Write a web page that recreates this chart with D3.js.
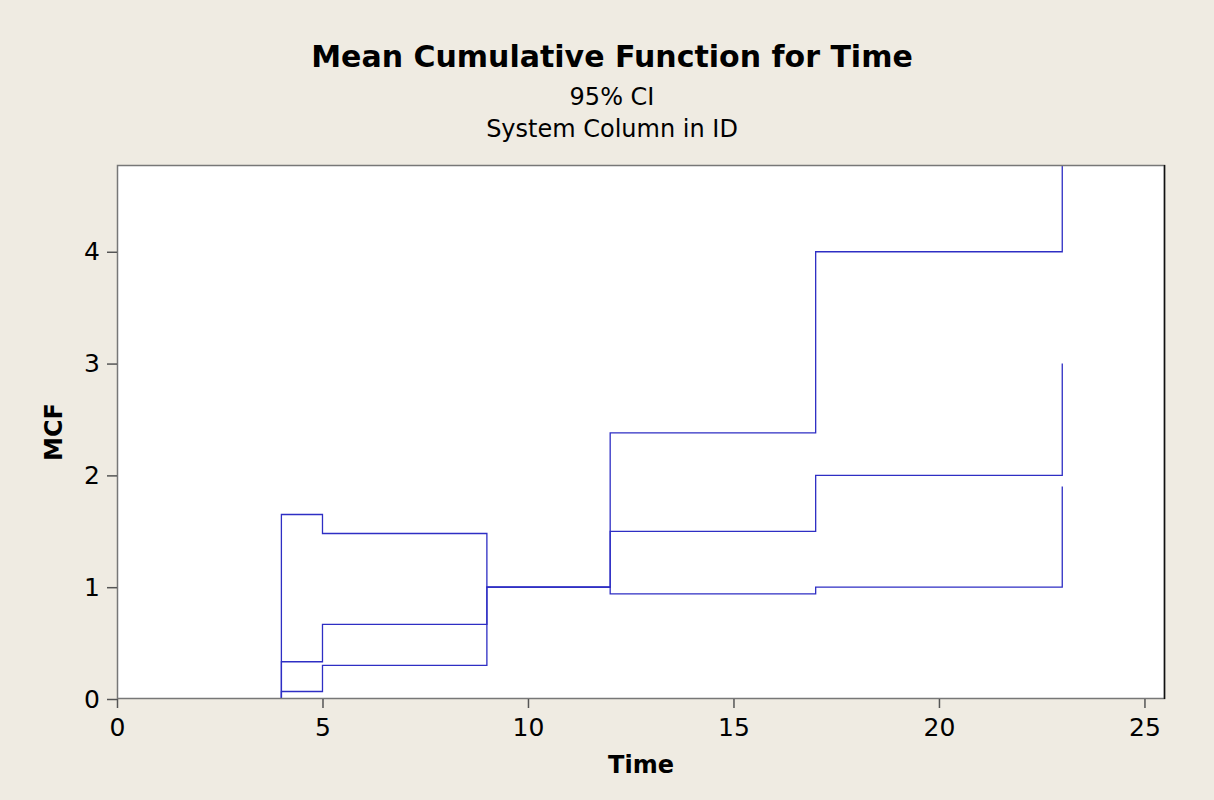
<!DOCTYPE html>
<html>
<head>
<meta charset="utf-8">
<script src="https://cdn.jsdelivr.net/npm/d3@7"></script>
<style>
  html, body { margin: 0; padding: 0; background: #efebe2; }
  svg { display: block; }
  text { font-family: "DejaVu Sans", Verdana, sans-serif; fill: #000; }
</style>
</head>
<body>
<svg id="chart" width="1214" height="800"></svg>
<script>
// Event times and step values (MCF and 95% CI bounds)
const times      = [0, 4, 5, 9, 12, 17, 23];
const mcf        = [0, 0.333, 0.667, 1.0, 1.5, 2.0, 3.0];
const lowerCI    = [0, 0.067, 0.30, 1.0, 0.94, 1.0, 1.9];
const upperCI    = [0, 1.65, 1.48, 1.0, 2.38, 4.0, 5.2];
const xTicks     = [0, 5, 10, 15, 20, 25];
const yTicks     = [0, 1, 2, 3, 4];
const titleText  = "Mean Cumulative Function for Time";
const subtitles  = ["95% CI", "System Column in ID"];
const xLabel     = "Time";
const yLabel     = "MCF";

const svg = d3.select("#chart");
const W = 1214, H = 800;
const plot = { left: 117, top: 165, right: 1165, bottom: 699 };

svg.append("rect").attr("width", W).attr("height", H).attr("fill", "#efebe2");

const x = d3.scaleLinear().domain([0, 25.5]).range([plot.left, plot.right]);
const y = d3.scaleLinear().domain([0, 4.776]).range([plot.bottom, plot.top]);

// Plot area
svg.append("rect")
  .attr("x", plot.left).attr("y", plot.top)
  .attr("width", plot.right - plot.left).attr("height", plot.bottom - plot.top)
  .attr("fill", "#fff");

svg.append("clipPath").attr("id", "clip")
  .append("rect")
  .attr("x", plot.left).attr("y", plot.top)
  .attr("width", plot.right - plot.left).attr("height", plot.bottom - plot.top);

// Step lines
function stepPoints(vals) {
  const pts = [];
  for (let i = 0; i < times.length; i++) {
    if (i > 0) pts.push([times[i], vals[i - 1]]);
    pts.push([times[i], vals[i]]);
  }
  return pts;
}
const line = d3.line().x(d => x(d[0])).y(d => y(d[1]));
const g = svg.append("g").attr("clip-path", "url(#clip)");
[upperCI, lowerCI, mcf].forEach((vals) => {
  let pts = stepPoints(vals);
  if (vals !== mcf) pts = pts.filter(p => p[0] >= 4); // CI starts at first event
  g.append("path")
    .attr("d", line(pts))
    .attr("fill", "none")
    .attr("stroke", "#2e2ec4")
    .attr("stroke-width", 1.3);
});

// Frame
svg.append("rect")
  .attr("x", plot.left + 0.5).attr("y", plot.top + 0.5)
  .attr("width", plot.right - plot.left - 1).attr("height", plot.bottom - plot.top - 1)
  .attr("fill", "none").attr("stroke", "#777").attr("stroke-width", 1.5);
svg.append("line")
  .attr("x1", plot.right - 0.5).attr("x2", plot.right - 0.5)
  .attr("y1", plot.top).attr("y2", plot.bottom)
  .attr("stroke", "#111").attr("stroke-width", 1.5);

// Axes
const xAxis = d3.axisBottom(x).tickValues(xTicks).tickSize(9).tickPadding(10).tickFormat(d3.format("d"));
const yAxis = d3.axisLeft(y).tickValues(yTicks).tickSize(10).tickPadding(7).tickFormat(d3.format("d"));

const gx = svg.append("g").attr("transform", `translate(0,${plot.bottom})`).call(xAxis);
const gy = svg.append("g").attr("transform", `translate(${plot.left},0)`).call(yAxis);
[gx, gy].forEach(ga => {
  ga.select(".domain").remove();
  ga.selectAll(".tick line").attr("stroke", "#555").attr("stroke-width", 1.5);
  ga.selectAll(".tick text").attr("font-size", 25).attr("font-family", "DejaVu Sans, sans-serif").attr("fill", "#000");
});

// Titles
svg.append("text").attr("x", 612).attr("y", 67).attr("text-anchor", "middle")
  .attr("font-size", 30).attr("font-weight", "bold").text(titleText);
subtitles.forEach((s, i) => {
  svg.append("text").attr("x", 612).attr("y", 105 + i * 32).attr("text-anchor", "middle")
    .attr("font-size", 24).text(s);
});
svg.append("text").attr("x", 641).attr("y", 773).attr("text-anchor", "middle")
  .attr("font-size", 24).attr("font-weight", "bold").text(xLabel);
svg.append("text").attr("transform", "translate(62,432) rotate(-90)").attr("text-anchor", "middle")
  .attr("font-size", 24).attr("font-weight", "bold").text(yLabel);
</script>
</body>
</html>
